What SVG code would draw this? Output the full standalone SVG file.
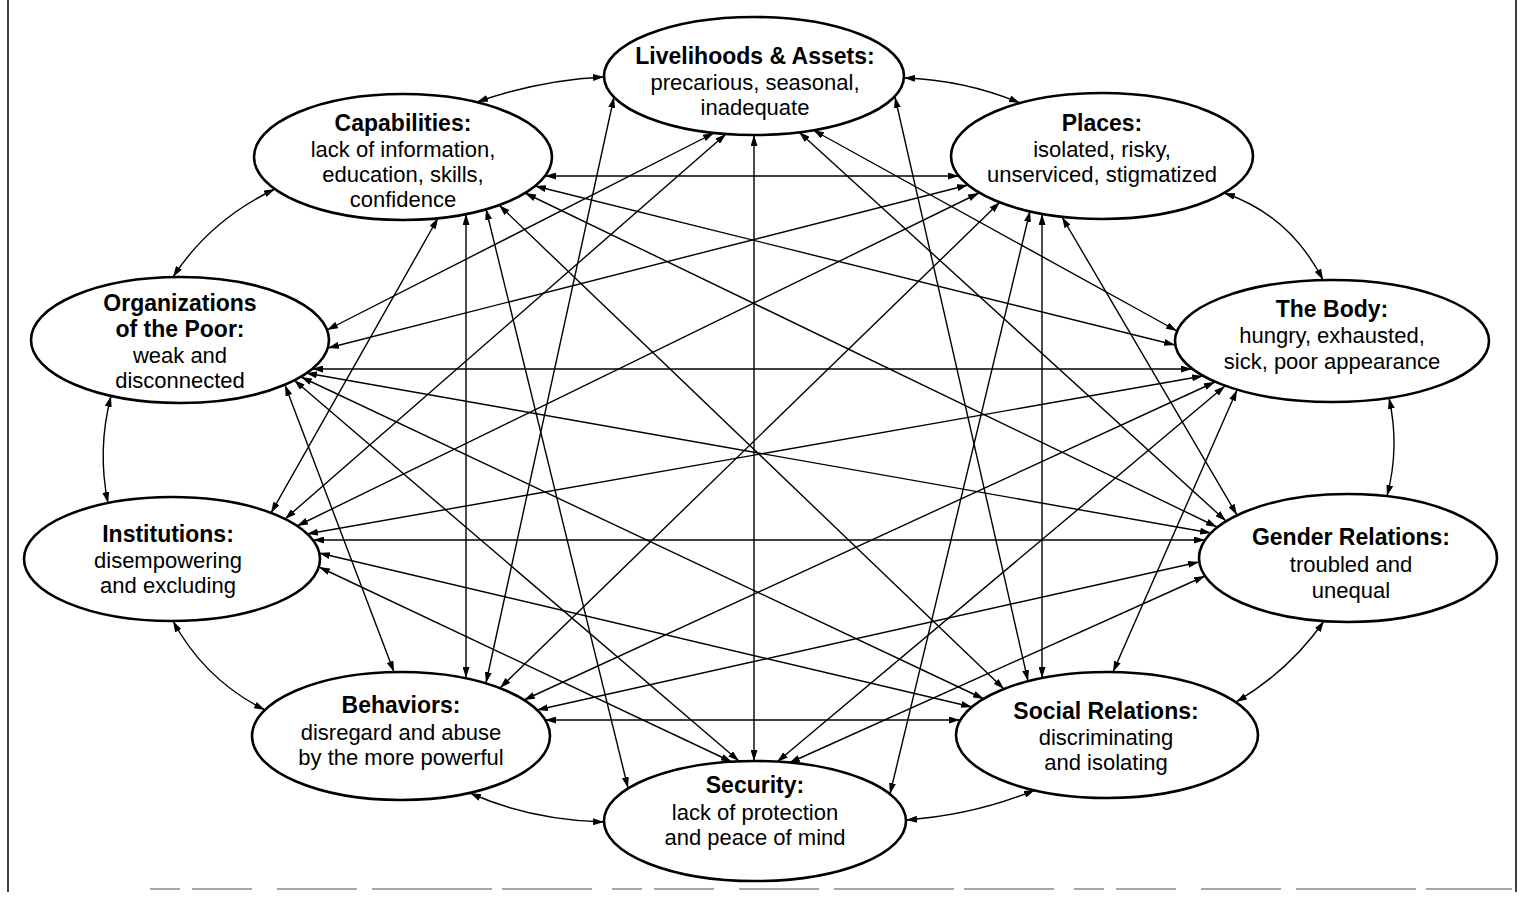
<svg xmlns="http://www.w3.org/2000/svg" width="1520" height="898" viewBox="0 0 1520 898">
<defs>
<marker id="ah" viewBox="0 0 11 7" refX="11" refY="3.5" markerWidth="11" markerHeight="7" markerUnits="userSpaceOnUse" orient="auto-start-reverse">
<path d="M0,0 L11,3.5 L0,7 z" fill="#000"/>
</marker>
</defs>
<style>
.c{fill:none;stroke:#000;stroke-width:1.4;marker-start:url(#ah);marker-end:url(#ah)}
.n ellipse{fill:#fff;stroke:#000;stroke-width:2.6}
.n text{font-family:"Liberation Sans",Arial,sans-serif;text-anchor:middle;fill:#000}
.t{font-weight:bold;font-size:23px}
.b{font-size:22px}
.f{stroke:#000;stroke-width:1.5;fill:none}
</style>
<rect width="1520" height="898" fill="#fff"/>
<g id="frame">
<line class="f" x1="8" y1="0" x2="8" y2="892"/>
<line class="f" x1="1516" y1="0" x2="1516" y2="892"/>
<line x1="150" y1="889" x2="1512" y2="889" stroke="#888" stroke-width="1.5" stroke-dasharray="30 12 60 25 80 15 120 10 90 20"/>
</g>
<g id="connectors">
<path class="c" d="M477,102 Q540,80 604,77"/>
<path class="c" d="M904,78 Q965,80 1020,103"/>
<path class="c" d="M1224,193 Q1290,215 1323,280"/>
<path class="c" d="M1389,398 Q1400,447 1387,496"/>
<path class="c" d="M1324,621 Q1290,670 1236,702"/>
<path class="c" d="M1035,790 Q975,815 906,820"/>
<path class="c" d="M604,822 Q530,820 470,793"/>
<path class="c" d="M265,710 Q205,680 173,621"/>
<path class="c" d="M108,503 Q97,450 111,396"/>
<path class="c" d="M173,277 Q210,220 275,189"/>
<path class="c" d="M614,97 L486,683"/>
<path class="c" d="M714,133 L327,330"/>
<path class="c" d="M726,134 L285,519"/>
<path class="c" d="M754,135 L754,761"/>
<path class="c" d="M813,130 L1177,331"/>
<path class="c" d="M895,97 L1028,681"/>
<path class="c" d="M799,132 L1226,521"/>
<path class="c" d="M545,176 L959,176"/>
<path class="c" d="M535,186 L1175,345"/>
<path class="c" d="M525,193 L1217,527"/>
<path class="c" d="M499,205 L1004,689"/>
<path class="c" d="M486,209 L628,788"/>
<path class="c" d="M466,214 L466,678"/>
<path class="c" d="M438,218 L271,513"/>
<path class="c" d="M968,185 L328,348"/>
<path class="c" d="M979,193 L297,526"/>
<path class="c" d="M1000,202 L500,688"/>
<path class="c" d="M1030,211 L890,794"/>
<path class="c" d="M1042,214 L1042,678"/>
<path class="c" d="M1062,217 L1237,515"/>
<path class="c" d="M312,369 L1192,369"/>
<path class="c" d="M306,373 L1211,533"/>
<path class="c" d="M301,377 L984,699"/>
<path class="c" d="M294,380 L739,761"/>
<path class="c" d="M285,385 L394,672"/>
<path class="c" d="M1203,376 L307,534"/>
<path class="c" d="M1215,382 L524,700"/>
<path class="c" d="M1225,386 L777,762"/>
<path class="c" d="M1237,390 L1113,672"/>
<path class="c" d="M313,540 L1205,540"/>
<path class="c" d="M319,553 L972,707"/>
<path class="c" d="M319,567 L732,762"/>
<path class="c" d="M1199,562 L537,710"/>
<path class="c" d="M1205,576 L789,763"/>
<path class="c" d="M545,720 L960,720"/>
</g>
<g id="livelihoods" class="n"><ellipse cx="754" cy="76" rx="150" ry="59"/>
<text class="t" x="755" y="64">Livelihoods &amp; Assets:</text>
<text class="b" x="755" y="90">precarious, seasonal,</text>
<text class="b" x="755" y="115">inadequate</text></g>
<g id="capabilities" class="n"><ellipse cx="403" cy="157" rx="149" ry="63"/>
<text class="t" x="403" y="131">Capabilities:</text>
<text class="b" x="403" y="157">lack of information,</text>
<text class="b" x="403" y="182">education, skills,</text>
<text class="b" x="403" y="207">confidence</text></g>
<g id="places" class="n"><ellipse cx="1102" cy="156" rx="151" ry="63"/>
<text class="t" x="1102" y="131">Places:</text>
<text class="b" x="1102" y="157">isolated, risky,</text>
<text class="b" x="1102" y="182">unserviced, stigmatized</text></g>
<g id="organizations" class="n"><ellipse cx="180" cy="340" rx="149" ry="63"/>
<text class="t" x="180" y="311">Organizations</text>
<text class="t" x="180" y="337">of the Poor:</text>
<text class="b" x="180" y="363">weak and</text>
<text class="b" x="180" y="388">disconnected</text></g>
<g id="body" class="n"><ellipse cx="1332" cy="341" rx="157" ry="61"/>
<text class="t" x="1332" y="317">The Body:</text>
<text class="b" x="1332" y="343">hungry, exhausted,</text>
<text class="b" x="1332" y="369">sick, poor appearance</text></g>
<g id="institutions" class="n"><ellipse cx="172" cy="559" rx="148" ry="62"/>
<text class="t" x="168" y="542">Institutions:</text>
<text class="b" x="168" y="568">disempowering</text>
<text class="b" x="168" y="593">and excluding</text></g>
<g id="gender" class="n"><ellipse cx="1348" cy="558" rx="149" ry="64"/>
<text class="t" x="1351" y="545">Gender Relations:</text>
<text class="b" x="1351" y="572">troubled and</text>
<text class="b" x="1351" y="598">unequal</text></g>
<g id="behaviors" class="n"><ellipse cx="401" cy="736" rx="149" ry="64"/>
<text class="t" x="401" y="713">Behaviors:</text>
<text class="b" x="401" y="740">disregard and abuse</text>
<text class="b" x="401" y="765">by the more powerful</text></g>
<g id="social" class="n"><ellipse cx="1107" cy="735" rx="151" ry="63"/>
<text class="t" x="1106" y="719">Social Relations:</text>
<text class="b" x="1106" y="745">discriminating</text>
<text class="b" x="1106" y="770">and isolating</text></g>
<g id="security" class="n"><ellipse cx="755" cy="821" rx="151" ry="60"/>
<text class="t" x="755" y="793">Security:</text>
<text class="b" x="755" y="820">lack of protection</text>
<text class="b" x="755" y="845">and peace of mind</text></g>
</svg>
